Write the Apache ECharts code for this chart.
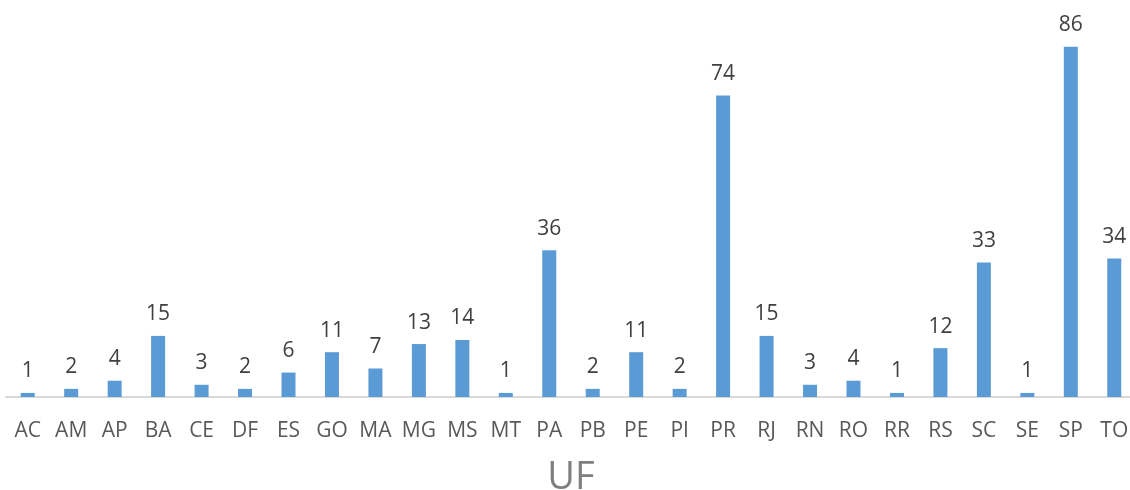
<!DOCTYPE html>
<html>
<head>
<meta charset="utf-8">
<script src="https://cdn.jsdelivr.net/npm/echarts@6/dist/echarts.min.js"></script>
<style>html,body{margin:0;padding:0;background:#fff}#c{width:1130px;height:490px}</style>
</head>
<body>
<div id="c"></div>
<script>
const categories = ['AC','AM','AP','BA','CE','DF','ES','GO','MA','MG','MS','MT','PA','PB','PE','PI','PR','RJ','RN','RO','RR','RS','SC','SE','SP','TO'];
const values = [1,2,4,15,3,2,6,11,7,13,14,1,36,2,11,2,74,15,3,4,1,12,33,1,86,34];
const axisTitle = 'UF';

const chart = echarts.init(document.getElementById('c'), null, {renderer:'canvas'});
chart.setOption({
  animation: false,
  grid: {left: 6, right: -6, top: 46.7, bottom: 93, containLabel: false, outerBoundsMode: 'none'},
  xAxis: {
    type: 'category',
    data: categories,
    axisLine: {lineStyle: {color: '#d9d9d9', width: 2}},
    axisTick: {show: false},
    axisLabel: {color: '#595959', fontFamily: 'Open Sans', fontSize: 21, margin: 24, interval: 0},
    name: axisTitle,
    nameLocation: 'middle',
    nameGap: 62,
    nameTextStyle: {color: '#7f7f7f', fontFamily: 'Open Sans', fontSize: 38}
  },
  yAxis: {
    type: 'value', min: 0, max: 86, show: false,
    splitLine: {show: false}
  },
  series: [{
    type: 'bar',
    data: values,
    barWidth: 14,
    itemStyle: {color: '#5b9bd5'},
    label: {show: true, position: 'top', distance: 11, color: '#404040', fontFamily: 'Open Sans', fontSize: 21}
  }]
});
</script>
</body>
</html>
